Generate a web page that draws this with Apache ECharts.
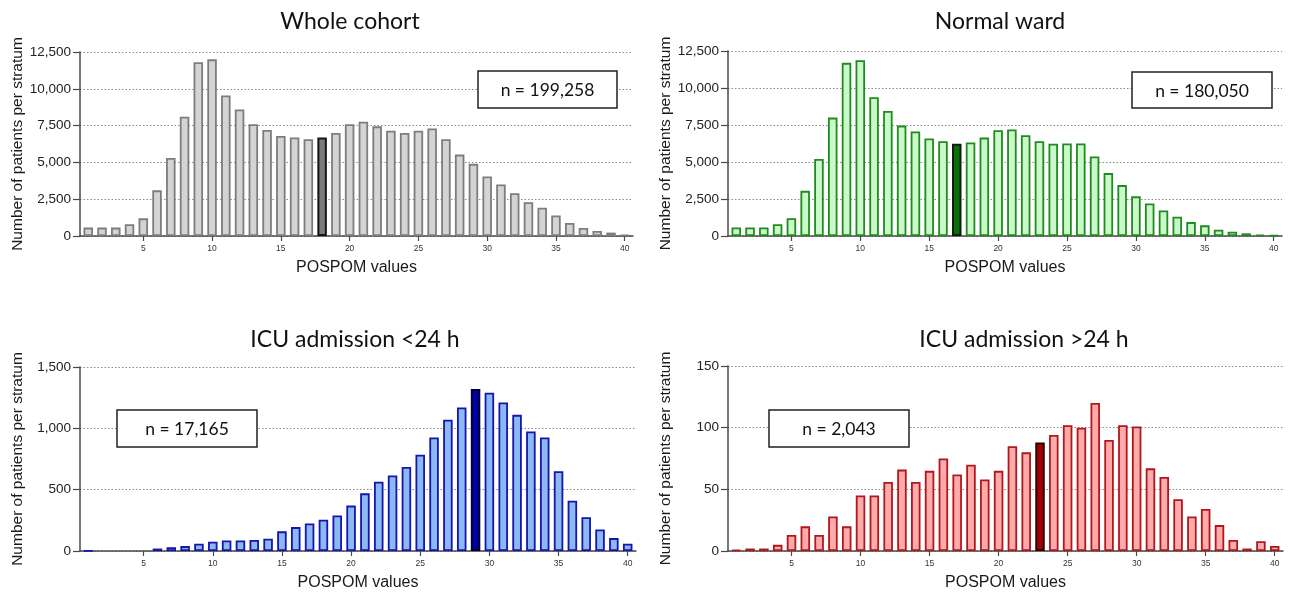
<!DOCTYPE html>
<html>
<head>
<meta charset="utf-8">
<script src="https://cdn.jsdelivr.net/npm/echarts@6/dist/echarts.min.js"></script>
<style>
html,body{margin:0;padding:0;background:#fff;}
#chart{width:1292px;height:592px;}
</style>
</head>
<body>
<div id="chart"></div>
<script>
// POSPOM values 1..40
const pospom = [1,2,3,4,5,6,7,8,9,10,11,12,13,14,15,16,17,18,19,20,21,22,23,24,25,26,27,28,29,30,31,32,33,34,35,36,37,38,39,40];
const xTickValues = [5,10,15,20,25,30,35,40];

const titles = ['Whole cohort', 'Normal ward', 'ICU admission <24 h', 'ICU admission >24 h'];
const nLabels = ['n = 199,258', 'n = 180,050', 'n = 17,165', 'n = 2,043'];
const highlightValue = [18, 17, 29, 23];   // median stratum drawn dark
const yMax = [12500, 12500, 1500, 150];
const yInterval = [2500, 2500, 500, 50];

const wholeCohort = [570,570,570,800,1200,3100,5300,8100,11800,12000,9550,8600,7600,7200,6800,6700,6570,6700,7000,7600,7770,7450,7150,7000,7150,7300,6570,5530,4900,4050,3500,2900,2300,1920,1400,880,550,340,230,90];
const normalWard = [580,580,580,800,1200,3050,5200,8000,11700,11870,9380,8450,7460,7060,6590,6400,6230,6320,6650,7150,7200,6810,6400,6230,6250,6250,5370,4250,3440,2680,2200,1730,1300,940,720,430,290,180,90,40];
const icuLess24 = [3,0,0,0,0,20,30,40,60,75,85,85,90,100,160,195,225,255,290,370,470,565,615,685,785,925,1070,1170,1320,1290,1210,1110,975,925,650,410,275,175,105,60];
const icuMore24 = [1,2,2,5,13,20,13,28,20,45,45,56,66,56,65,75,62,70,58,65,85,80,88,94,102,100,120,90,102,101,67,60,42,28,34,21,9,2,8,4];

const seriesValues = [wholeCohort, normalWard, icuLess24, icuMore24];

const styles = [
  {fill:'#d4d4d4', border:'#7d7d7d', hiFill:'#7b7b7b', hiBorder:'#151515'},
  {fill:'#c9f8c9', border:'#218a21', hiFill:'#0b6e0b', hiBorder:'#0c200c'},
  {fill:'#8cb9f2', border:'#1515b0', hiFill:'#0000a8', hiBorder:'#00002a'},
  {fill:'#ffabab', border:'#b0181c', hiFill:'#a30000', hiBorder:'#2a0000'}
];

const grids = [
  {left:80,  top:52,  width:553, height:184},
  {left:728, top:51,  width:554, height:185},
  {left:80,  top:367, width:556, height:185},
  {left:728, top:366, width:555, height:185}
];
const titlePos = [[350,22],[1000,22],[355,340],[1024,340]];
const boxPos = [[478,71,139,37],[1132,72,140,36],[117,410,140,37],[769,410,140,37]];

const fmt = v => v.toLocaleString('en-US');
const fontAxis = '"Liberation Sans", Arial, sans-serif';
const fontTitle = 'Lato, "Open Sans", sans-serif';

const xAxes = [], yAxes = [], series = [], graphics = [];
for (let i = 0; i < 4; i++) {
  xAxes.push({
    type:'value', gridIndex:i, min:0.4, max:40.6,
    name:'POSPOM values', nameLocation:'middle', nameGap:24,
    nameTextStyle:{fontFamily:fontAxis, fontSize:16, color:'#1a1a1a'},
    axisLine:{show:true, onZero:false, lineStyle:{color:'#4a4a4a', width:1.5}},
    axisTick:{show:true, customValues:xTickValues, length:5, lineStyle:{color:'#4a4a4a', width:1.2}},
    axisLabel:{customValues:xTickValues, fontFamily:fontAxis, fontSize:8.5, color:'#333', margin:8},
    splitLine:{show:false}
  });
  yAxes.push({
    type:'value', gridIndex:i, min:0, max:yMax[i], interval:yInterval[i],
    name:'Number of patients per stratum', nameLocation:'middle', nameGap:54,
    nameTextStyle:{fontFamily:fontAxis, fontSize:15.5, color:'#1a1a1a'},
    axisLine:{show:true, lineStyle:{color:'#4a4a4a', width:1.5}},
    axisTick:{show:true, length:7, lineStyle:{color:'#4a4a4a', width:1.2}},
    axisLabel:{formatter:fmt, fontFamily:fontAxis, fontSize:13.5, color:'#222', margin:9},
    splitLine:{show:true, lineStyle:{color:'#8a8a8a', type:[1.5,2], width:1}}
  });
  const st = styles[i];
  series.push({
    type:'bar', xAxisIndex:i, yAxisIndex:i, barWidth:9.5,
    itemStyle:{color:st.fill, borderColor:st.border, borderWidth:1.8},
    data: pospom.map((p, k) => {
      const v = seriesValues[i][k];
      const d = {value:[p, v]};
      if (p === highlightValue[i]) d.itemStyle = {color:st.hiFill, borderColor:st.hiBorder, borderWidth:2};
      else if (v === 0) d.itemStyle = {borderWidth:0};
      return d;
    })
  });
  graphics.push({
    type:'text', x:titlePos[i][0], y:titlePos[i][1],
    style:{text:titles[i], font:'23px ' + fontTitle, fill:'#111', align:'center', verticalAlign:'middle'}
  });
  const b = boxPos[i];
  graphics.push({
    type:'rect', shape:{x:b[0], y:b[1], width:b[2], height:b[3]},
    style:{fill:'#fff', stroke:'#222', lineWidth:1.5}, z:100
  });
  graphics.push({
    type:'text', x:b[0] + b[2]/2, y:b[1] + b[3]/2 + 1, z:101,
    style:{text:nLabels[i], font:'17.5px ' + fontTitle, fill:'#111', align:'center', verticalAlign:'middle'}
  });
}

const chart = echarts.init(document.getElementById('chart'), null, {renderer:'canvas'});
chart.setOption({
  animation:false,
  backgroundColor:'#fff',
  grid:grids,
  xAxis:xAxes,
  yAxis:yAxes,
  series:series,
  graphic:graphics
});
</script>
</body>
</html>
